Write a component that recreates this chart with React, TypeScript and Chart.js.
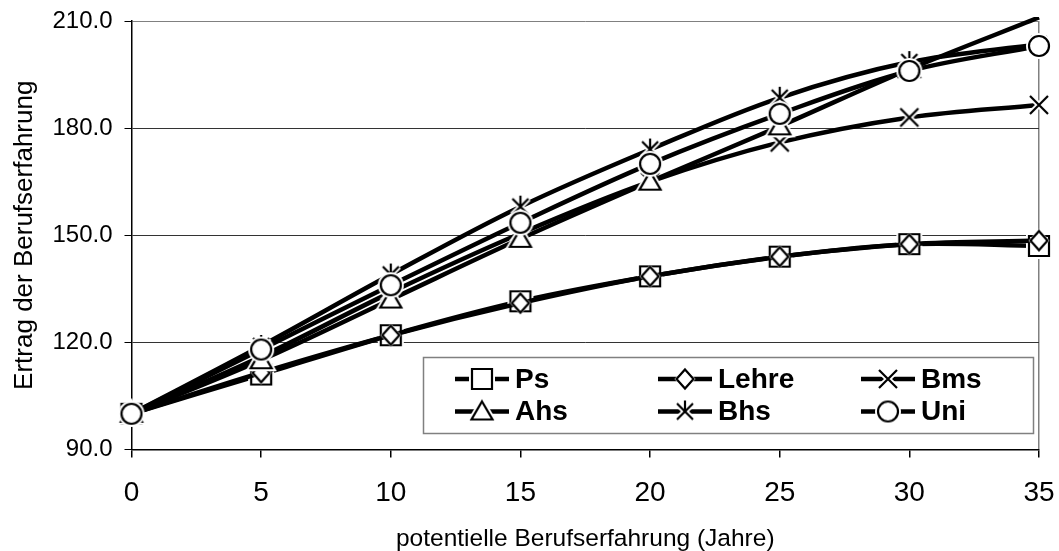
import React, { useEffect, useRef } from 'react';
import { Chart, registerables } from 'chart.js';

Chart.register(...registerables);

// ---- data ----
const years = [0, 5, 10, 15, 20, 25, 30, 35];
const psValues = [100, 111, 122, 131.5, 138.5, 144, 147.5, 147];
const lehreValues = [100, 111.5, 122, 131, 138.5, 144, 147.5, 148.5];
const bmsValues = [100, 116, 134, 150.5, 165, 176, 183, 186.5];
const ahsValues = [100, 115, 132, 149, 165, 180.5, 196.5, 211];
const bhsValues = [100, 119, 139, 158, 174, 188.5, 198.5, 203.5];
const uniValues = [100, 118, 136, 153.5, 170, 184, 196, 203];
const seriesLabels = ['Ps', 'Lehre', 'Bms', 'Ahs', 'Bhs', 'Uni'];
const seriesValues = [psValues, lehreValues, bmsValues, ahsValues, bhsValues, uniValues];
const markerKinds = ['square', 'diamond', 'cross', 'triangle', 'asterisk', 'circle'];
const yMin = 90;
const yMax = 210;
const yStep = 30;
const xMin = 0;
const xMax = 35;
const xStep = 5;
const xTitle = 'potentielle Berufserfahrung (Jahre)';
const yTitle = 'Ertrag der Berufserfahrung';

const FONT = "'Liberation Sans', Arial, Helvetica, sans-serif";

function makeMarker(kind: string): HTMLCanvasElement {
  const c = document.createElement('canvas');
  c.width = 32;
  c.height = 32;
  const g = c.getContext('2d') as CanvasRenderingContext2D;
  const m = 16;
  const closed = kind === 'square' || kind === 'diamond' || kind === 'triangle' || kind === 'circle';
  const path = () => {
    g.beginPath();
    switch (kind) {
      case 'square':
        g.rect(m - 10, m - 10, 20, 20);
        break;
      case 'diamond':
        g.moveTo(m, m - 9.5);
        g.lineTo(m + 8.5, m);
        g.lineTo(m, m + 9.5);
        g.lineTo(m - 8.5, m);
        g.closePath();
        break;
      case 'triangle':
        g.moveTo(m, m - 10);
        g.lineTo(m + 10.5, m + 8);
        g.lineTo(m - 10.5, m + 8);
        g.closePath();
        break;
      case 'circle':
        g.arc(m, m, 10, 0, Math.PI * 2);
        break;
      case 'cross':
        g.moveTo(m - 9, m - 9);
        g.lineTo(m + 9, m + 9);
        g.moveTo(m + 9, m - 9);
        g.lineTo(m - 9, m + 9);
        break;
      case 'asterisk':
        g.moveTo(m - 8, m - 8);
        g.lineTo(m + 8, m + 8);
        g.moveTo(m + 8, m - 8);
        g.lineTo(m - 8, m + 8);
        g.moveTo(m, m - 11);
        g.lineTo(m, m + 2);
        break;
    }
  };
  g.lineJoin = 'miter';
  // white halo
  path();
  g.strokeStyle = '#fff';
  g.lineWidth = kind === 'diamond' ? 3 : 6;
  g.stroke();
  if (closed) {
    g.fillStyle = '#fff';
    g.fill();
  }
  // black outline
  path();
  g.strokeStyle = '#000';
  g.lineWidth = 2.2;
  g.stroke();
  return c;
}

export default function App() {
  const canvasRef = useRef<HTMLCanvasElement | null>(null);

  useEffect(() => {
    const canvas = canvasRef.current;
    if (!canvas) return;
    const markers = markerKinds.map((k) => makeMarker(k));

    const legendPlugin = {
      id: 'boxLegend',
      afterDraw(chart: any) {
        const ctx = chart.ctx as CanvasRenderingContext2D;
        const left = 423;
        const top = 357;
        const right = 1033;
        const bottom = 433;
        ctx.save();
        ctx.fillStyle = '#fff';
        ctx.fillRect(left, top, right - left, bottom - top);
        ctx.strokeStyle = '#808080';
        ctx.lineWidth = 1.5;
        ctx.strokeRect(left + 0.5, top + 0.5, right - left, bottom - top);
        chart.data.datasets.forEach((ds: any, i: number) => {
          const col = i % 3;
          const row = Math.floor(i / 3);
          const cx = 482 + col * 203;
          const cy = 379 + row * 32.5;
          ctx.strokeStyle = '#000';
          ctx.lineWidth = 4.5;
          ctx.beginPath();
          ctx.moveTo(cx - 27, cy);
          ctx.lineTo(cx + 27, cy);
          ctx.stroke();
          const img = markers[i];
          ctx.drawImage(img, cx - img.width / 2, cy - img.height / 2);
          ctx.fillStyle = '#000';
          ctx.font = `bold 28px ${FONT}`;
          ctx.textBaseline = 'middle';
          ctx.textAlign = 'left';
          ctx.fillText(ds.label, cx + 33, cy + 1);
        });
        ctx.restore();
      },
    };

    const chart = new Chart(canvas, {
      type: 'line',
      data: {
        datasets: seriesValues.map((vals, i) => ({
          label: seriesLabels[i],
          data: years.map((x, j) => ({ x, y: vals[j] })),
          borderColor: '#000',
          backgroundColor: '#fff',
          borderWidth: 4.5,
          tension: 0.35,
          fill: false,
          order: seriesValues.length - 1 - i,
          pointStyle: markers[i] as any,
          pointRadius: (c: any) => (c.raw && c.raw.y > yMax ? 0 : 10),
          clip: { left: false, right: false, top: 4, bottom: false } as any,
        })),
      },
      options: {
        responsive: false,
        animation: false,
        events: [],
        layout: { padding: { top: 21, right: 20, left: 0, bottom: 0 } },
        plugins: {
          legend: { display: false },
          tooltip: { enabled: false },
        },
        scales: {
          x: {
            type: 'linear',
            min: xMin,
            max: xMax,
            ticks: {
              stepSize: xStep,
              color: '#000',
              font: { family: FONT, size: 28 },
              padding: 19,
              maxRotation: 0,
              autoSkip: false,
            },
            grid: {
              color: (c: any) => (c.tick && c.tick.value === xMax ? '#808080' : 'rgba(0,0,0,0)'),
              tickColor: '#000',
              tickLength: 8,
              lineWidth: 1.5,
            },
            border: { color: '#000', width: 1.5 },
            title: {
              display: true,
              text: xTitle,
              color: '#000',
              font: { family: FONT, size: 24.5, lineHeight: 1 },
              padding: { top: 0, bottom: 0 },
            },
            afterFit: (s: any) => {
              s.height = 101.5;
              s.paddingLeft = 0;
              s.paddingRight = 0;
            },
          },
          y: {
            min: yMin,
            max: yMax,
            ticks: {
              stepSize: yStep,
              color: '#000',
              font: { family: FONT, size: 24 },
              padding: 12,
              callback: (v: any) => Number(v).toFixed(1),
            },
            grid: {
              color: (c: any) => (c.tick && c.tick.value === yMax ? '#808080' : '#333'),
              tickColor: '#000',
              tickLength: 7,
              lineWidth: 1,
            },
            border: { color: '#000', width: 1.5 },
            title: {
              display: true,
              text: yTitle,
              color: '#000',
              font: { family: FONT, size: 26, lineHeight: 1 },
              padding: { top: 12, bottom: 0 },
            },
            afterFit: (s: any) => {
              s.width = 131.5;
              s.paddingTop = 0;
              s.paddingBottom = 0;
            },
          },
        },
      } as any,
      plugins: [legendPlugin],
    });

    return () => {
      chart.destroy();
    };
  }, []);

  return (
    <div style={{ position: 'fixed', left: 0, top: 0, width: 1059, height: 551, background: '#fff' }}>
      <canvas ref={canvasRef} width={1059} height={551} style={{ display: 'block', width: 1059, height: 551 }} />
    </div>
  );
}
